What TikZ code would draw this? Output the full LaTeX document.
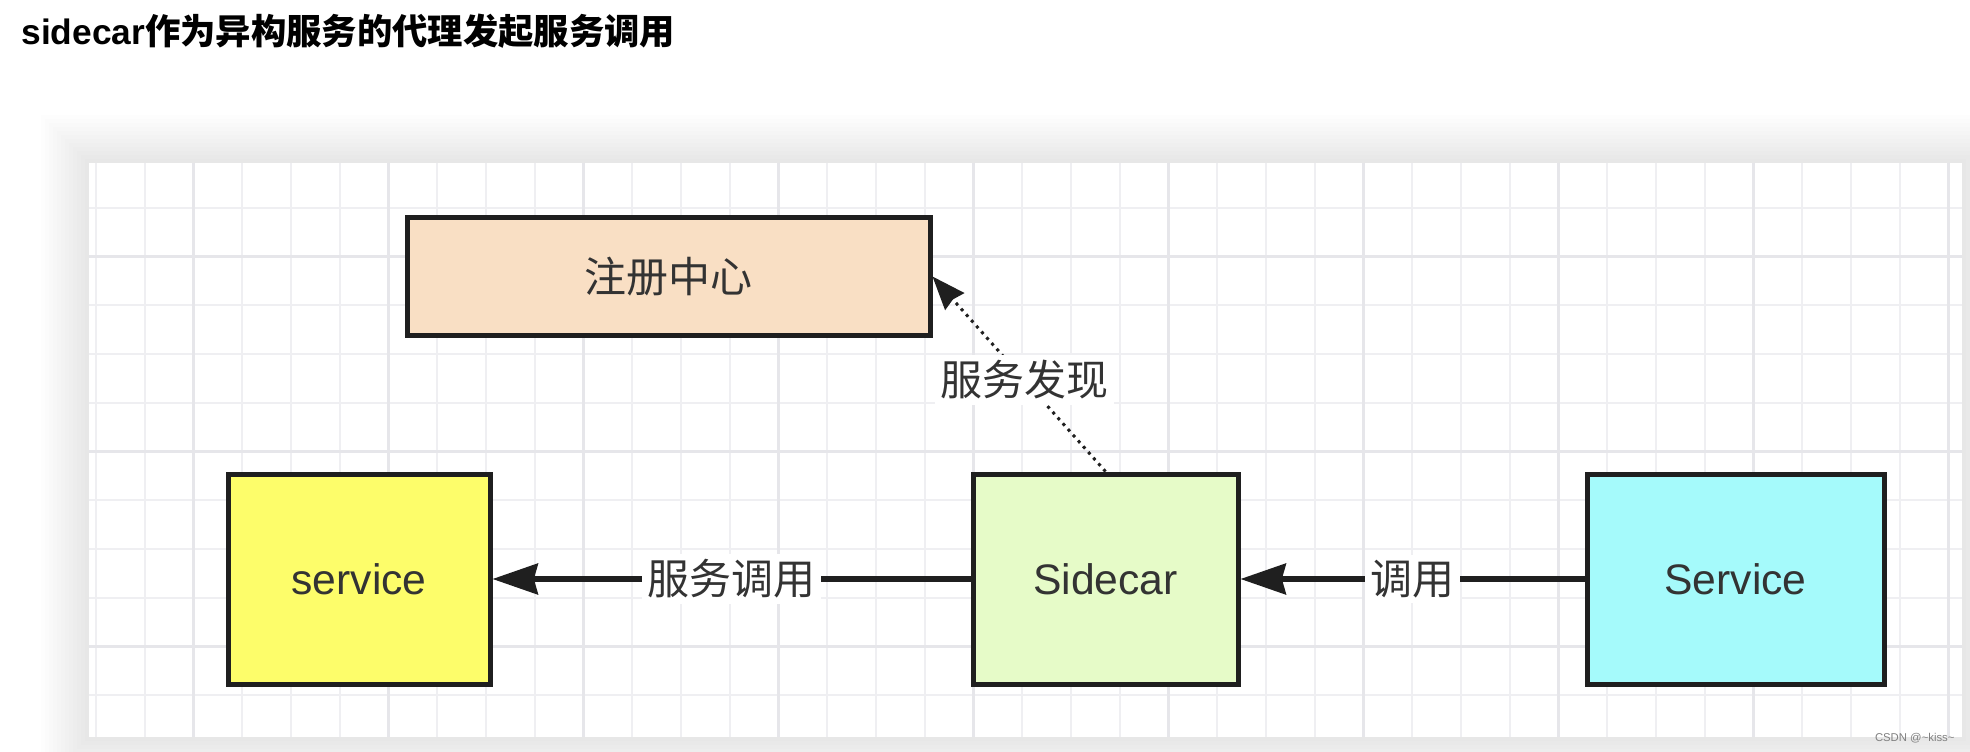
\documentclass[tikz,border=0pt]{standalone}
\usepackage{fontspec}
\setmainfont{Liberation Sans}
\newfontfamily\cjk{Noto Sans CJK SC}
\usetikzlibrary{arrows.meta}

\definecolor{regfill}{RGB}{249,223,196}
\definecolor{svcfill}{RGB}{253,253,106}
\definecolor{carfill}{RGB}{230,251,200}
\definecolor{callerfill}{RGB}{165,250,251}
\definecolor{edgeblack}{RGB}{31,31,31}
\definecolor{textgray}{RGB}{51,51,51}
\definecolor{gridminorc}{RGB}{239,239,242}
\definecolor{gridmajorc}{RGB}{230,230,234}

\tikzset{every picture/.style={line width=0.75pt},
  blockbox/.style={draw=edgeblack, line width=3.75pt, inner sep=0pt, text=textgray, font=\fontsize{32}{38}\selectfont},
  edgelabel/.style={fill=white, inner sep=4pt, text=textgray, font=\cjk\fontsize{31.5}{36}\selectfont},
  callarrow/.style={draw=edgeblack, line width=4pt, -{Stealth[length=34pt, width=23pt, inset=3pt]}},
  findarrow/.style={draw=edgeblack, line width=2.25pt, dash pattern=on 2.25pt off 3.5pt, -{Stealth[length=25pt, width=19pt, inset=2pt]}},
  gridminor/.style={draw=gridminorc, line width=1.5pt},
  gridmajor/.style={draw=gridmajorc, line width=2.25pt}
}

\begin{document}
\begin{tikzpicture}[x=0.75pt,y=0.75pt,yscale=-1,xscale=1]
\useasboundingbox (0,0) rectangle (1970,752);

%Shadow of the canvas
\foreach \s in {1,...,12}
  \fill[black, opacity=0.007] ({89-4*\s},{163-4*\s}) rectangle ({1962+4*\s},{737+4*\s});

%Canvas with grid
\begin{scope}
\clip (89,163) rectangle (1962,737);
\fill[white] (89,163) rectangle (1962,737);
\foreach \k in {-3,...,36} \draw[gridminor] ({193.6+48.75*\k},163) -- ++(0,574);
\foreach \k in {-2,...,10} \draw[gridminor] (89,{256.7+48.75*\k}) -- ++(1873,0);
\foreach \k in {-1,...,9} \draw[gridmajor] ({193.6+195*\k},163) -- ++(0,574);
\foreach \k in {-1,...,3} \draw[gridmajor] (89,{256.7+195*\k}) -- ++(1873,0);
\end{scope}

% Text Node
\node[anchor=west, inner sep=0pt, font=\bfseries\fontsize{26.5}{30}\selectfont] (title) at (21,31) {sidecar{\cjk 作为异构服务的代理发起服务调用}};

%Shape: Rectangle
\node[blockbox, fill=regfill, minimum width=392.25pt, minimum height=87.75pt, font=\cjk\fontsize{31.5}{36}\selectfont] (reg) at (668.5,276.5) {注册中心};
%Shape: Rectangle
\node[blockbox, fill=svcfill, minimum width=196.5pt, minimum height=157.5pt] (svc) at (359,579) {service};
%Shape: Rectangle
\node[blockbox, fill=carfill, minimum width=198.75pt, minimum height=157.5pt] (sidecar) at (1105.5,579) {Sidecar};
%Shape: Rectangle
\node[blockbox, fill=callerfill, minimum width=222.75pt, minimum height=157.5pt] (caller) at (1735.5,579) {Service};

%Straight Lines
\draw[callarrow] (sidecar) -- node[edgelabel] {服务调用} (svc);
%Straight Lines
\draw[callarrow] (caller) -- node[edgelabel] {调用} (sidecar);
%Dotted Lines
\draw[findarrow] (sidecar.north) -- node[edgelabel, pos=0.47] {服务发现} (reg.east);

% Text Node
\node[anchor=east, inner sep=0pt, text=gray, font=\fontsize{8.5}{10}\selectfont] (mark) at (1955,738) {CSDN @\textasciitilde kiss\textasciitilde};

\end{tikzpicture}
\end{document}
